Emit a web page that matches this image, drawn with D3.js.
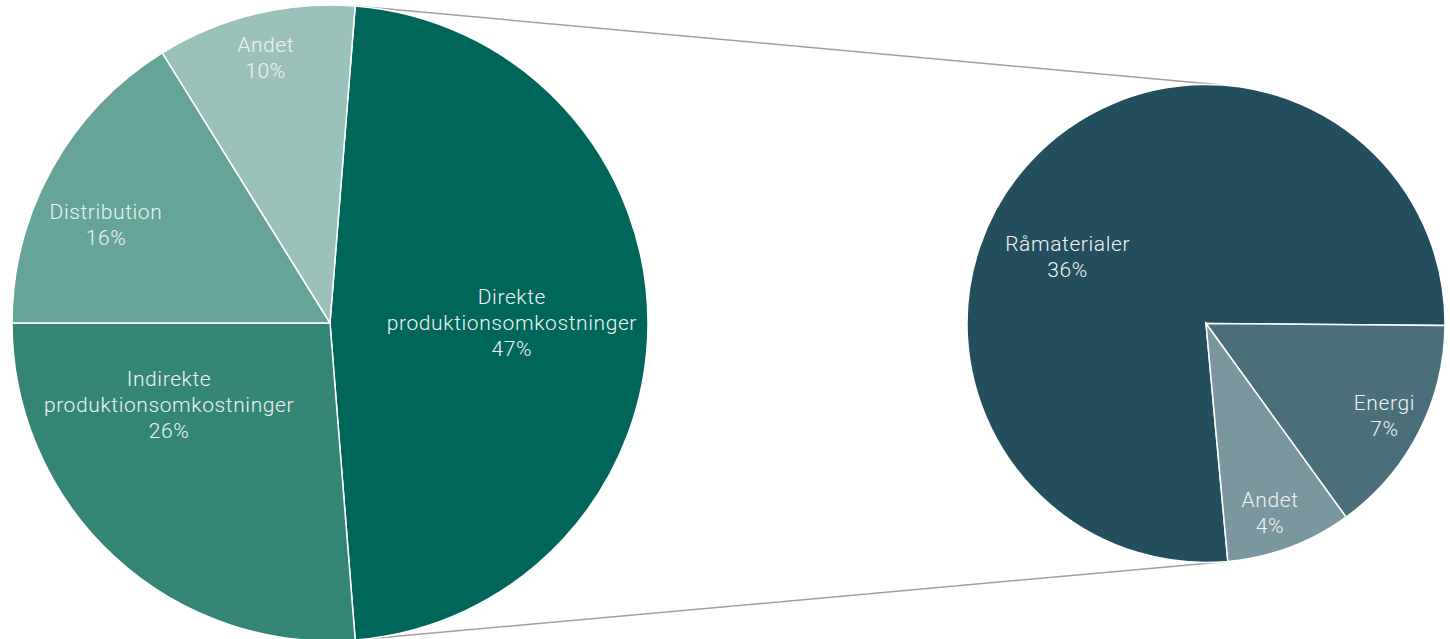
<!DOCTYPE html>
<html>
<head>
<meta charset="utf-8">
<script src="https://cdn.jsdelivr.net/npm/d3@7"></script>
<style>
  html, body { margin: 0; padding: 0; background: #fff; }
  svg { display: block; }
  .lbl { font-family: Roboto, "Open Sans", sans-serif; font-weight: 300; font-size: 21px; letter-spacing: 0.6px; fill: #eef4f2; }
</style>
</head>
<body>
<div id="chart"></div>
<script>
// Main pie
const mainNames = [["Direkte", "produktionsomkostninger"], ["Indirekte", "produktionsomkostninger"], ["Distribution"], ["Andet"]];
const mainValues = [47, 26, 16, 10];
const mainColors = ["#00665a", "#358576", "#66a399", "#9ac2ba"];

// Breakdown of "Direkte produktionsomkostninger"
const subNames = [["Råmaterialer"], ["Energi"], ["Andet"]];
const subValues = [36, 7, 4];
const subColors = ["#224e5e", "#4a6f7b", "#7a979f"];

// label placement: [angle nudge in degrees, radius fraction]
const mainLabelPos = [[0, 0.572], [20.3, 0.568], [-5.3, 0.77], [0, 0.858]];
const subLabelPos = [[-17, 0.642], [0, 0.84], [1.9, 0.837]];

const width = 1450, height = 639;
const rad = Math.PI / 180;

const svg = d3.select("#chart").append("svg")
    .attr("width", width)
    .attr("height", height);

const main = { cx: 330, cy: 323, r: 318 };
const sub = { cx: 1206, cy: 323.5, r: 239 };

// direkte slice centered on the right side
const mainSpan = mainValues[0] / d3.sum(mainValues) * 2 * Math.PI;
const mainStart = Math.PI / 2 - mainSpan / 2;

const mainPie = d3.pie().sort(null)
    .startAngle(mainStart)
    .endAngle(mainStart + 2 * Math.PI);

const subSpan = subValues[0] / d3.sum(subValues) * 2 * Math.PI;
const subEnd = 90.5 * rad;
const subPie = d3.pie().sort(null)
    .startAngle(subEnd - subSpan)
    .endAngle(subEnd - subSpan + 2 * Math.PI);

function drawPie(conf, values, names, colors, pie, labelPos) {
  const g = svg.append("g").attr("transform", `translate(${conf.cx},${conf.cy})`);
  const arc = d3.arc().innerRadius(0).outerRadius(conf.r);
  const arcs = pie(values);

  g.selectAll("path")
    .data(arcs)
    .enter().append("path")
      .attr("d", arc)
      .attr("fill", (d, i) => colors[i])
      .attr("stroke", "#fff")
      .attr("stroke-width", 1.5);

  const lbl = g.selectAll("text")
    .data(arcs)
    .enter().append("text")
      .attr("class", "lbl")
      .attr("text-anchor", "middle")
      .attr("transform", (d, i) => {
        const a = (d.startAngle + d.endAngle) / 2 + labelPos[i][0] * rad;
        const rr = conf.r * labelPos[i][1];
        return `translate(${rr * Math.sin(a)},${-rr * Math.cos(a)})`;
      });

  lbl.each(function(d, i) {
    const lines = names[i].concat([values[i] + "%"]);
    const t = d3.select(this);
    const off = -(lines.length - 1) / 2 * 26;
    lines.forEach((s, k) => {
      t.append("tspan")
        .attr("x", 0)
        .attr("y", off + k * 26)
        .attr("dy", "0.35em")
        .text(s);
    });
  });
  return arcs;
}

// connector lines, behind the pies
const connectors = svg.append("g");

const mainArcs = drawPie(main, mainValues, mainNames, mainColors, mainPie, mainLabelPos);
drawPie(sub, subValues, subNames, subColors, subPie, subLabelPos);

const a0 = mainArcs[0].startAngle, a1 = mainArcs[0].endAngle;
[a0, a1].forEach(a => {
  connectors.append("line")
    .attr("x1", main.cx + main.r * Math.sin(a))
    .attr("y1", main.cy - main.r * Math.cos(a))
    .attr("x2", sub.cx + sub.r * Math.sin(a))
    .attr("y2", sub.cy - sub.r * Math.cos(a))
    .attr("stroke", "#a0a0a0")
    .attr("stroke-width", 1.5);
});
</script>
</body>
</html>
